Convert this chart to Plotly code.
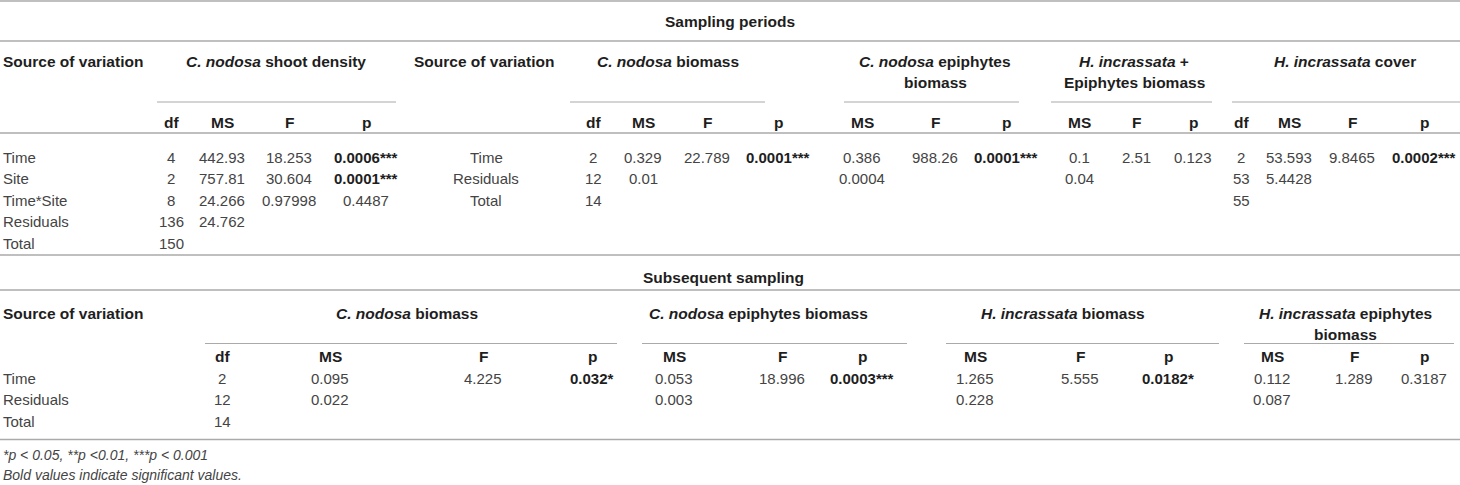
import plotly.graph_objects as go

# ---------------- data ----------------
title_periods = "Sampling periods"
title_subsequent = "Subsequent sampling"
source_label = "Source of variation"
col_heads = ["df", "MS", "F", "p"]

# Sampling periods: C. nodosa shoot density
sd_sources = ["Time", "Site", "Time*Site", "Residuals", "Total"]
sd_df = ["4", "2", "8", "136", "150"]
sd_ms = ["442.93", "757.81", "24.266", "24.762", ""]
sd_f = ["18.253", "30.604", "0.97998", "", ""]
sd_p = ["0.0006***", "0.0001***", "0.4487", "", ""]

# Sampling periods: other variables
sp_sources = ["Time", "Residuals", "Total"]
cb_df = ["2", "12", "14"]
cb_ms = ["0.329", "0.01", ""]
cb_f = ["22.789", "", ""]
cb_p = ["0.0001***", "", ""]
ce_ms = ["0.386", "0.0004", ""]
ce_f = ["988.26", "", ""]
ce_p = ["0.0001***", "", ""]
he_ms = ["0.1", "0.04", ""]
he_f = ["2.51", "", ""]
he_p = ["0.123", "", ""]
hc_df = ["2", "53", "55"]
hc_ms = ["53.593", "5.4428", ""]
hc_f = ["9.8465", "", ""]
hc_p = ["0.0002***", "", ""]

# Subsequent sampling
ss_sources = ["Time", "Residuals", "Total"]
s_cb_df = ["2", "12", "14"]
s_cb_ms = ["0.095", "0.022", ""]
s_cb_f = ["4.225", "", ""]
s_cb_p = ["0.032*", "", ""]
s_ce_ms = ["0.053", "0.003", ""]
s_ce_f = ["18.996", "", ""]
s_ce_p = ["0.0003***", "", ""]
s_hb_ms = ["1.265", "0.228", ""]
s_hb_f = ["5.555", "", ""]
s_hb_p = ["0.0182*", "", ""]
s_he_ms = ["0.112", "0.087", ""]
s_he_f = ["1.289", "", ""]
s_he_p = ["0.3187", "", ""]

footnotes = ["*p < 0.05, **p <0.01, ***p < 0.001",
             "Bold values indicate significant values."]

# ---------------- style / layout ----------------
W, H = 1460, 485
FONT = "Liberation Sans, Arial, Helvetica, sans-serif"
DATA_C = "#444444"
HEAD_C = "#1e1e1e"
LINE_C = "#aaaaaa"
FS = 15
HFS = 15.5

ann = []
shp = []


def text(x, y, s, anchor="center", bold=False, size=FS, color=DATA_C, italic=False):
    if s == "":
        return
    if bold:
        s = "<b>" + s + "</b>"
    if italic:
        s = "<i>" + s + "</i>"
    ann.append(dict(x=x, y=y, xref="x", yref="y", text=s, showarrow=False,
                    xanchor=anchor, yanchor="middle",
                    font=dict(family=FONT, size=size, color=color)))


def hline(x0, x1, y, w=1.6):
    shp.append(dict(type="line", xref="x", yref="y", x0=x0, x1=x1, y0=y, y1=y,
                    line=dict(color=LINE_C, width=w)))


def pval(x, y, s):
    text(x, y, s, bold=s.endswith("*"), color=HEAD_C if s.endswith("*") else DATA_C)


def block(head_lines, hx, hy, ux0, ux1, uy, sub_y, cols, rows_y):
    for i, ln in enumerate(head_lines):
        text(hx, hy + i * 21.5, ln, bold=True, size=HFS, color=HEAD_C)
    hline(ux0, ux1, uy, 1.2)
    for name, x, vals in cols:
        text(x, sub_y, name, bold=True, size=HFS, color=HEAD_C)
        for v, y in zip(vals, rows_y):
            if name == "p":
                pval(x, y, v)
            else:
                text(x, y, v)


# ---- full-width rules ----
for y in [1, 41, 133, 255, 290, 439.5]:
    hline(0, W, y, 1.6)

# ---- section 1 ----
text(730, 21.5, title_periods, bold=True, size=HFS, color=HEAD_C)
hy1, sub1 = 61, 122
rows1 = [157, 178.5, 200, 221.5, 243]
text(1, hy1, source_label, anchor="left", bold=True, size=HFS, color=HEAD_C)
for s, y in zip(sd_sources, rows1):
    text(1, y, s, anchor="left")
block(["<i>C. nodosa</i> shoot density"], 276, hy1, 157, 396, 102, sub1,
      [("df", 171, sd_df), ("MS", 222, sd_ms), ("F", 289, sd_f), ("p", 366, sd_p)], rows1)

text(412, hy1, source_label, anchor="left", bold=True, size=HFS, color=HEAD_C)
for s, y in zip(sp_sources, rows1):
    text(486, y, s)
block(["<i>C. nodosa</i> biomass"], 668, hy1, 570, 765, 102, sub1,
      [("df", 593, cb_df), ("MS", 643, cb_ms), ("F", 707, cb_f), ("p", 778, cb_p)], rows1)
block(["<i>C. nodosa</i> epiphytes", "biomass"], 935, hy1, 844, 1019, 102, sub1,
      [("MS", 862, ce_ms), ("F", 935, ce_f), ("p", 1006, ce_p)], rows1)
block(["<i>H. incrassata</i> +", "Epiphytes biomass"], 1134, hy1, 1051, 1212, 102, sub1,
      [("MS", 1079, he_ms), ("F", 1136, he_f), ("p", 1193, he_p)], rows1)
block(["<i>H. incrassata</i> cover"], 1345, hy1, 1232, 1460, 102, sub1,
      [("df", 1241, hc_df), ("MS", 1289, hc_ms), ("F", 1352, hc_f), ("p", 1424, hc_p)], rows1)

# ---- section 2 ----
text(723, 277, title_subsequent, bold=True, size=HFS, color=HEAD_C)
hy2, sub2 = 313, 356.5
rows2 = [378, 399.5, 421]
text(1, hy2, source_label, anchor="left", bold=True, size=HFS, color=HEAD_C)
for s, y in zip(ss_sources, rows2):
    text(1, y, s, anchor="left")
block(["<i>C. nodosa</i> biomass"], 407, hy2, 205, 617, 343.5, sub2,
      [("df", 222, s_cb_df), ("MS", 330, s_cb_ms), ("F", 483, s_cb_f), ("p", 592, s_cb_p)], rows2)
block(["<i>C. nodosa</i> epiphytes biomass"], 758, hy2, 642, 907, 343.5, sub2,
      [("MS", 674, s_ce_ms), ("F", 782, s_ce_f), ("p", 862, s_ce_p)], rows2)
block(["<i>H. incrassata</i> biomass"], 1063, hy2, 946, 1219, 343.5, sub2,
      [("MS", 975, s_hb_ms), ("F", 1080, s_hb_f), ("p", 1168, s_hb_p)], rows2)
block(["<i>H. incrassata</i> epiphytes", "biomass"], 1345, hy2, 1244, 1454, 343.5, sub2,
      [("MS", 1272, s_he_ms), ("F", 1354, s_he_f), ("p", 1424, s_he_p)], rows2)

# ---- footnotes ----
for s, y in zip(footnotes, [455, 475]):
    text(1, y, s, anchor="left", italic=True, size=14, color=DATA_C)

fig = go.Figure()
fig.update_layout(
    width=W, height=H,
    margin=dict(l=0, r=0, t=0, b=0),
    paper_bgcolor="white", plot_bgcolor="white",
    xaxis=dict(range=[0, W], visible=False, fixedrange=True),
    yaxis=dict(range=[H, 0], visible=False, fixedrange=True),
    annotations=ann, shapes=shp, showlegend=False,
)
fig.write_html("out.html", config={"displayModeBar": False},
               post_script="document.body.style.margin='0';document.body.style.overflow='hidden';")
